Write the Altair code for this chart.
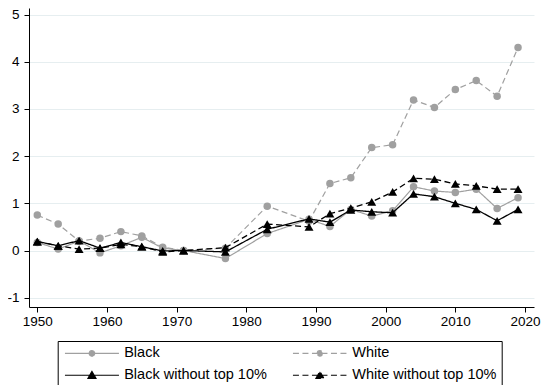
import altair as alt
import pandas as pd

years = [1950, 1953, 1956, 1959, 1962, 1965, 1968, 1971, 1977, 1983, 1989,
         1992, 1995, 1998, 2001, 2004, 2007, 2010, 2013, 2016, 2019]

black = [0.17, 0.03, 0.20, -0.05, 0.10, 0.28, 0.05, 0.0, -0.17, 0.36, 0.66,
         0.51, 0.87, 0.73, 0.84, 1.35, 1.26, 1.23, 1.30, 0.89, 1.12]
white = [0.75, 0.56, 0.20, 0.26, 0.40, 0.31, 0.07, 0.0, 0.05, 0.94, 0.62,
         1.42, 1.54, 2.18, 2.24, 3.19, 3.03, 3.41, 3.60, 3.27, 4.30]
black_wo = [0.19, 0.10, 0.21, 0.05, 0.17, 0.08, -0.01, 0.0, -0.03, 0.45, 0.67,
            0.60, 0.86, 0.82, 0.80, 1.20, 1.14, 1.00, 0.87, 0.63, 0.87]
white_wo = [0.19, 0.10, 0.03, 0.05, 0.13, 0.08, -0.03, 0.0, 0.06, 0.56, 0.50,
            0.78, 0.90, 1.03, 1.24, 1.53, 1.51, 1.41, 1.37, 1.30, 1.30]

series_names = ["Black", "White", "Black without top 10%", "White without top 10%"]
series_values = [black, white, black_wo, white_wo]

x_ticks = [1950, 1960, 1970, 1980, 1990, 2000, 2010, 2020]
y_ticks = [-1, 0, 1, 2, 3, 4, 5]

rows = []
for name, vals in zip(series_names, series_values):
    for yr, v in zip(years, vals):
        rows.append({"year": yr, "value": v, "series": name})
df = pd.DataFrame(rows)

GRAY = "#a0a0a0"
colors = [GRAY, GRAY, "black", "black"]
dashes = [[1, 0], [6, 3.5], [1, 0], [6, 3.5]]
markers = ["circle", "circle", "triangle-up", "triangle-up"]
marker_sizes = [56, 56, 80, 80]
line_widths = [1.2, 1.2, 1.3, 1.3]
# legend glyphs: a line segment with a marker in its middle (unit = 5 px at symbolSize 100)
circle_path = "M-5.4,0L5.4,0M-0.55,0A0.55,0.55,0,1,1,0.55,0A0.55,0.55,0,1,1,-0.55,0Z"
tri_path = "M-5.4,0L5.4,0M-0.8,0.62L0,-0.76L0.8,0.62Z"
glyphs = [circle_path, circle_path, tri_path, tri_path]

# legend entries are laid out column by column
legend_order = [0, 2, 1, 3]
leg_domain = [series_names[i] for i in legend_order]
leg_colors = [colors[i] for i in legend_order]
leg_dashes = [dashes[i] for i in legend_order]
leg_glyphs = [glyphs[i] for i in legend_order]

FONT = "Liberation Sans"

x_enc = alt.X("year:Q",
              scale=alt.Scale(domain=[1948.81, 2021.29], nice=False, zero=False),
              axis=alt.Axis(values=x_ticks, format="d", title=None, grid=False,
                            tickSize=5, labelPadding=2, labelFlush=False))
y_enc = alt.Y("value:Q",
              scale=alt.Scale(domain=[-1.197, 5.138], nice=False, zero=False),
              axis=alt.Axis(values=y_ticks, format="d", title=None, grid=True,
                            gridColor="#e6eef0", tickSize=5, labelPadding=5,
                            labelExpr="replace(datum.label, '\u2212', '-')"))

base = alt.Chart(df)

layers = []
for i, name in enumerate(series_names):
    sub = base.transform_filter(alt.datum.series == name)
    layers.append(sub.mark_line(color=colors[i], strokeDash=dashes[i],
                                strokeWidth=line_widths[i]).encode(x=x_enc, y=y_enc))
    layers.append(sub.mark_point(shape=markers[i], filled=True, color=colors[i],
                                 size=marker_sizes[i], opacity=1).encode(x=x_enc, y=y_enc))

leg = alt.Legend(orient="none", legendX=28.7, legendY=333, columns=2, title=None,
                 strokeColor="black", padding=5, symbolSize=100, symbolStrokeWidth=1.2,
                 rowPadding=7, columnPadding=22, symbolOffset=22, labelOffset=25,
                 labelFont=FONT, labelFontSize=14.5, labelColor="black")

legend_layer = base.transform_filter("false").mark_point(filled=True, opacity=1).encode(
    x=x_enc, y=y_enc,
    shape=alt.Shape("series:N", scale=alt.Scale(domain=leg_domain, range=leg_glyphs), legend=leg),
    fill=alt.Fill("series:N", scale=alt.Scale(domain=leg_domain, range=leg_colors), legend=leg),
    stroke=alt.Stroke("series:N", scale=alt.Scale(domain=leg_domain, range=leg_colors), legend=leg),
    strokeDash=alt.StrokeDash("series:N", scale=alt.Scale(domain=leg_domain, range=leg_dashes), legend=leg),
)

chart = alt.layer(*layers, legend_layer).properties(
    width=505, height=299,
    autosize=alt.AutoSizeParams(type="none"),
    padding={"left": 21, "top": 0, "right": 7, "bottom": 78},
).configure_view(stroke="transparent").configure_axis(
    labelFont=FONT, labelFontSize=13.5, labelColor="black",
    domainColor="black", domainWidth=1, tickColor="black", tickWidth=1,
)

chart.save("out.html", embed_options={"renderer": "svg", "actions": False})
